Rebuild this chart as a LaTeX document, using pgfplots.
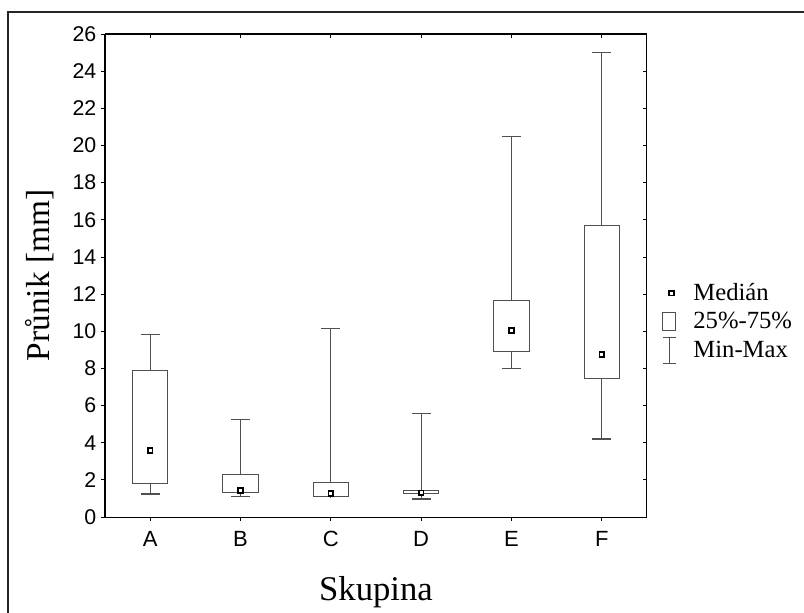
\documentclass[border=0pt]{standalone}
\usepackage{fontspec}
\setmainfont{Liberation Serif}
\setsansfont{Liberation Sans}
\usepackage{pgfplots}
\pgfplotsset{compat=1.18}
\usepgfplotslibrary{statistics}

\definecolor{boxgray}{RGB}{80,80,80}

\pgfplotsset{
  boxstyle/.style={
    boxgray, line width=0.8pt, solid,
    boxplot/draw direction=y,
    boxplot/box extend=0.39,
    boxplot/whisker extend=0.21,
    boxplot/draw/median/.code={},
    forget plot},
  medlegend/.style={legend image code/.code={
    \draw[##1] plot coordinates {(0.23cm,0cm)};}},
  boxlegend/.style={legend image code/.code={
    \draw[boxgray, line width=0.8pt] (0cm,-0.24cm) rectangle (0.34cm,0.24cm);}},
  whisklegend/.style={legend image code/.code={
    \draw[boxgray, line width=0.8pt] (0cm,0.34cm) -- (0.34cm,0.34cm)
      (0.17cm,0.34cm) -- (0.17cm,-0.34cm) (0cm,-0.34cm) -- (0.34cm,-0.34cm);}},
  common/.style={
    scale only axis,
    width=406.5pt, height=362.25pt,
    at={(78.75pt,-387.75pt)}, anchor=south west,
    xmin=-0.5, xmax=5.5, ymin=0, ymax=26,
    xtick={0,...,5}, ytick={0,2,...,26},
    major tick length=3pt,
    axis line style={line width=0.75pt},
    tick style={line width=0.6pt, black},
  },
}

\begin{document}
\begin{tikzpicture}
% frame and page size, in pixels of the reference
\begin{scope}[x=0.75pt,y=-0.75pt]
  \useasboundingbox (0,0) rectangle (804,613);
  \draw[line width=1.5pt,black!85] (8,620) -- (8,12) -- (810,12);
\end{scope}

\begin{axis}[
  common,
  xticklabels={A,B,C,D,E,F},
  xtick pos=bottom, ytick pos=left,
  tick align=outside,
  /pgf/number format/assume math mode=true,
  yticklabel style={font=\sffamily\fontsize{16}{19}\selectfont},
  xticklabel style={font=\sffamily\fontsize{16.5}{19}\selectfont, yshift=-4pt},
  xlabel={Skupina},
  ylabel={Průnik [mm]},
  xlabel style={font=\fontsize{26}{30}\selectfont,
    at={(axis description cs:0.5,-0.172)}, anchor=base},
  ylabel style={font=\fontsize{25}{30}\selectfont,
    at={(axis description cs:-0.12,0.5)}, anchor=center},
  legend style={draw=none, fill=none,
    at={(1.02,0.495)}, anchor=north west,
    font=\fontsize{18.5}{22}\selectfont,
    row sep=3pt,
    /tikz/every odd column/.append style={column sep=11pt},
    cells={anchor=west}},
]

% A
\addplot[boxstyle, boxplot prepared={lower whisker=1.24, lower quartile=1.81,
  median=3.57, upper quartile=7.87, upper whisker=9.8, draw position=0}]
  coordinates {};
% B
\addplot[boxstyle, boxplot prepared={lower whisker=1.09, lower quartile=1.31,
  median=1.42, upper quartile=2.30, upper whisker=5.27, draw position=1}]
  coordinates {};
% C
\addplot[boxstyle, boxplot prepared={lower whisker=1.08, lower quartile=1.10,
  median=1.28, upper quartile=1.87, upper whisker=10.17, draw position=2}]
  coordinates {};
% D
\addplot[boxstyle, boxplot prepared={lower whisker=0.97, lower quartile=1.28,
  median=1.30, upper quartile=1.42, upper whisker=5.58, draw position=3}]
  coordinates {};
% E
\addplot[boxstyle, boxplot prepared={lower whisker=7.97, lower quartile=8.93,
  median=10.05, upper quartile=11.64, upper whisker=20.5, draw position=4}]
  coordinates {};
% F
\addplot[boxstyle, boxplot prepared={lower whisker=4.2, lower quartile=7.46,
  median=8.74, upper quartile=15.68, upper whisker=25.0, draw position=5}]
  coordinates {};

% medians
\addplot[only marks, mark=square*, mark size=1.8pt,
  mark options={draw=black, fill=white, line width=1.35pt}, medlegend]
  coordinates {(0,3.57) (1,1.42) (2,1.28) (3,1.30) (4,10.05) (5,8.74)};
\addlegendentry{Medián}

\addlegendimage{boxlegend}
\addlegendentry{25\%-75\%}
\addlegendimage{whisklegend}
\addlegendentry{Min-Max}
\end{axis}

\begin{axis}[
  common,
  xticklabels={}, yticklabels={},
  xtick pos=top, ytick pos=right,
  tick align=inside,
]
\end{axis}
\end{tikzpicture}
\end{document}
